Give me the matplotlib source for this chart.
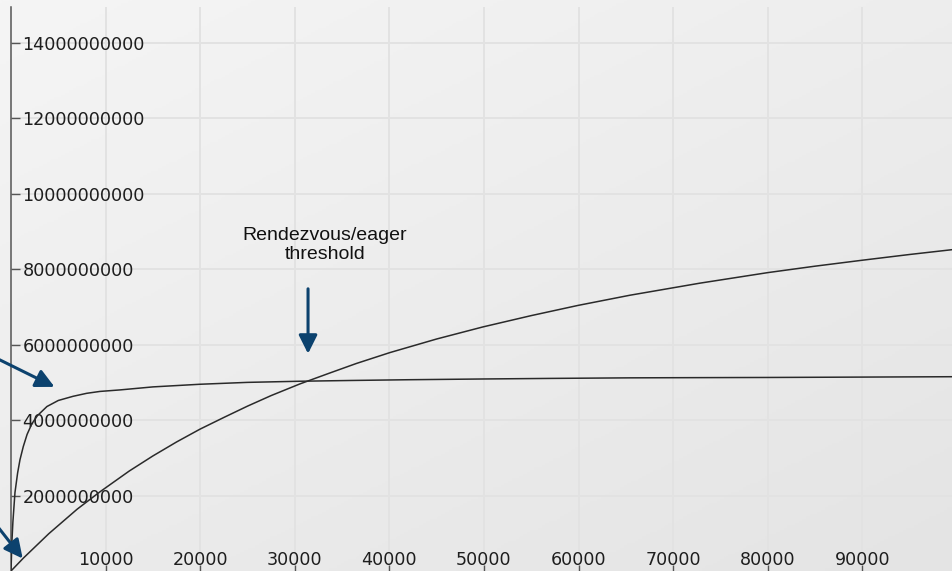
import numpy as np
import matplotlib
matplotlib.use("Agg")
import matplotlib.pyplot as plt
from matplotlib.colors import LinearSegmentedColormap

# message size (bytes) vs bandwidth
eager_x = [0, 100, 200, 420, 700, 950, 1300, 1700, 2200, 2800, 3800, 5000,
           6550, 8000, 9410, 11520, 15000, 19980, 25000, 30550, 35840, 42000,
           50000, 57000, 65430, 72000, 80000, 90000, 99580]
eager_y = [0, 0.80e9, 1.30e9, 2.08e9, 2.60e9, 2.95e9, 3.30e9, 3.62e9, 3.90e9,
           4.12e9, 4.36e9, 4.52e9, 4.63e9, 4.71e9, 4.76e9, 4.80e9, 4.88e9,
           4.95e9, 5.00e9, 5.03e9, 5.05e9, 5.07e9, 5.09e9, 5.105e9, 5.12e9,
           5.125e9, 5.13e9, 5.14e9, 5.15e9]

rendezvous_x = [0, 1300, 4000, 7000, 9410, 12500, 15000, 17500, 19980, 22500,
                25000, 27500, 30550, 33720, 36500, 40060, 45000, 49890, 55000,
                59940, 65430, 72830, 80020, 85000, 90060, 95000, 99580]
rendezvous_y = [0, 0.34e9, 0.99e9, 1.64e9, 2.10e9, 2.65e9, 3.05e9, 3.42e9,
                3.76e9, 4.07e9, 4.37e9, 4.65e9, 4.96e9, 5.25e9, 5.50e9, 5.79e9,
                6.15e9, 6.47e9, 6.77e9, 7.04e9, 7.31e9, 7.63e9, 7.91e9, 8.08e9,
                8.24e9, 8.39e9, 8.52e9]

x_ticks = [10000, 20000, 30000, 40000, 50000, 60000, 70000, 80000, 90000]
y_ticks = [2e9, 4e9, 6e9, 8e9, 10e9, 12e9, 14e9]

arrow_color = '#0c426e'

fig = plt.figure(figsize=(9.53, 5.71), dpi=100)

# soft grey gradient background
bg = fig.add_axes([0, 0, 1, 1], zorder=0)
bg.axis('off')
gx, gy = np.meshgrid(np.linspace(0, 1, 256), np.linspace(0, 1, 256))
cmap = LinearSegmentedColormap.from_list('bg', ['#f5f5f5', '#e4e4e4'])
bg.imshow(0.45 * gx + 0.55 * gy, cmap=cmap, aspect='auto', origin='upper',
          extent=[0, 1, 0, 1], vmin=0, vmax=1)

ax = fig.add_axes([11 / 953, 0, 942 / 953, 1 - 7 / 571], zorder=1)
ax.patch.set_alpha(0)
ax.set_xlim(0, 99580)
ax.set_ylim(0, 14.95e9)

ax.grid(True, color='#e2e2e2', lw=1.4, zorder=0)
ax.set_axisbelow(True)

ax.plot(eager_x, eager_y, color='#2a2a2a', lw=1.1, zorder=3)
ax.plot(rendezvous_x, rendezvous_y, color='#2a2a2a', lw=1.1, zorder=3)

ax.set_xticks(x_ticks)
ax.set_yticks(y_ticks)
ax.set_xticklabels([str(v) for v in x_ticks])
ax.set_yticklabels(['%d' % v for v in y_ticks])

for s in ['top', 'right', 'bottom']:
    ax.spines[s].set_visible(False)
ax.spines['left'].set_color('#555555')
ax.spines['left'].set_linewidth(1.1)

ax.tick_params(axis='y', direction='in', length=6.5, width=1, color='#555555',
               pad=-8.2, labelsize=12.7, labelcolor='#1e1e1e')
ax.tick_params(axis='x', direction='in', length=4, width=1, color='#555555',
               pad=-1.2, labelsize=12.6, labelcolor='#1e1e1e')
for lab in ax.get_yticklabels():
    lab.set_horizontalalignment('left')
for lab in ax.get_xticklabels():
    lab.set_verticalalignment('bottom')

ax.text(33190, 8.65e9, 'Rendezvous/eager\nthreshold', ha='center', va='center',
        fontsize=14, family='Liberation Sans', color='#111111', linespacing=1.15,
        zorder=4)

props = dict(arrowstyle='-|>,head_length=0.4,head_width=0.2', color=arrow_color,
             lw=2.2, mutation_scale=28, shrinkA=0, shrinkB=0)
ax.annotate('', xy=(31400, 5.76e9), xytext=(31400, 7.48e9), arrowprops=props,
            annotation_clip=False, zorder=5)
ax.annotate('', xy=(4600, 4.88e9), xytext=(-1700, 5.66e9), arrowprops=props,
            annotation_clip=False, zorder=5)
ax.annotate('', xy=(1237, 0.33e9), xytext=(-1700, 1.27e9), arrowprops=props,
            annotation_clip=False, zorder=5)

fig.savefig('out.png', dpi=100)
